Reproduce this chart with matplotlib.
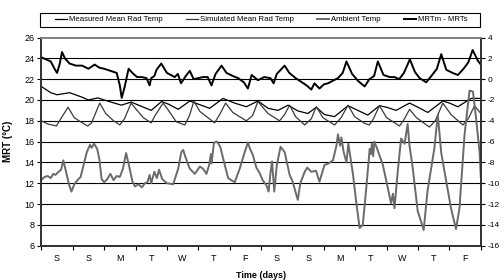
from matplotlib import pylab as plt
from matplotlib.patches import Rectangle
import numpy as np

# Donnees (jours, valeurs)
jours_labels = ['S', 'S', 'M', 'T', 'W', 'T', 'F', 'S', 'S', 'M', 'T', 'W', 'T', 'F']

mesure_t = [0, 0.3, 0.5, 0.9, 1.27, 1.5, 1.8, 2.0, 2.33, 2.55, 2.86, 3.18, 3.5, 3.83, 4.05, 4.36,
            4.73, 5.0, 5.36, 5.79, 6.16, 6.53, 6.9, 7.22, 7.54, 7.86, 8.17, 8.49, 8.76, 9.02, 9.34,
            9.77, 10.08, 10.4, 10.77, 11.0, 11.3, 11.73, 12.0, 12.31, 12.79, 13.0, 13.27, 13.69, 14.0]
mesure = [21.3, 20.7, 20.5, 20.7, 20.3, 20.0, 20.2, 20.0, 19.7, 19.5, 19.8, 19.4, 19.0, 19.85, 19.6, 19.1,
          19.9, 19.6, 19.2, 20.15, 19.7, 19.35, 19.9, 19.2, 19.0, 19.5, 18.95, 18.7, 19.3, 18.6, 18.4,
          19.45, 19.0, 18.55, 19.45, 19.3, 19.0, 19.7, 19.3, 18.8, 19.9, 19.7, 19.35, 20.15, 20.15]

simule_t = [0, 0.2, 0.48, 0.62, 0.85, 1.05, 1.25, 1.48, 1.6, 1.86, 2.05, 2.3, 2.5, 2.65, 2.86, 3.05,
            3.25, 3.5, 3.62, 3.88, 4.05, 4.3, 4.57, 4.72, 4.86, 5.05, 5.52, 5.68, 5.87, 6.1, 6.53,
            6.73, 6.9, 7.22, 7.59, 7.75, 7.91, 8.1, 8.39, 8.6, 8.76, 8.97, 9.34, 9.55, 9.77, 9.98,
            10.3, 10.45, 10.58, 10.77, 11.0, 11.41, 11.55, 11.73, 11.95, 12.36, 12.55, 12.79, 13.05,
            13.43, 13.6, 13.8, 14.0]
simule = [18.0, 17.7, 17.5, 18.2, 19.3, 18.3, 17.9, 17.5, 17.8, 19.7, 18.7, 18.0, 17.6, 18.2, 19.7, 19.0,
          18.3, 17.8, 18.5, 19.7, 19.0, 17.9, 17.6, 18.5, 19.9, 18.9, 17.8, 18.6, 19.7, 18.8, 18.0,
          18.5, 19.85, 18.7, 18.0, 18.6, 19.5, 18.4, 17.6, 18.2, 19.35, 18.3, 17.6, 18.3, 19.5, 18.4,
          17.75, 17.6, 18.2, 19.45, 18.3, 17.5, 18.1, 19.1, 18.3, 17.4, 18.0, 19.7, 18.6,
          17.6, 18.2, 19.45, 18.7]

ambiant_t = [0, 0.1, 0.2, 0.3, 0.38, 0.45, 0.55, 0.63, 0.7, 0.78, 0.88, 0.96, 1.05, 1.18, 1.25, 1.35,
             1.45, 1.55, 1.6, 1.68, 1.78, 1.85, 1.92, 2.0, 2.1, 2.2, 2.3, 2.4, 2.5, 2.6, 2.7, 2.8,
             2.9, 2.98, 3.1, 3.2, 3.3, 3.38, 3.45, 3.5, 3.6, 3.68, 3.75, 3.85, 4.0, 4.2, 4.36, 4.46,
             4.52, 4.58, 4.73, 4.89, 5.05, 5.15, 5.26, 5.35, 5.4, 5.42, 5.5, 5.6, 5.7, 5.79, 5.95,
             6.05, 6.16, 6.32, 6.48, 6.58, 6.65, 6.74, 6.85, 6.95, 7.05, 7.17, 7.24, 7.3, 7.35, 7.42,
             7.5, 7.62, 7.75, 7.91, 8.0, 8.17, 8.25, 8.39, 8.47, 8.6, 8.75, 8.86, 9.02, 9.15, 9.29,
             9.4, 9.45, 9.52, 9.56, 9.63, 9.72, 9.78, 9.93, 10.03, 10.14, 10.24, 10.35, 10.46, 10.5,
             10.53, 10.57, 10.61, 10.7, 10.88, 11.04, 11.14, 11.2, 11.25, 11.35, 11.46, 11.57, 11.67,
             11.72, 11.83, 11.99, 12.1, 12.18, 12.3, 12.52, 12.63, 12.74, 12.9, 13.05, 13.21, 13.32,
             13.48, 13.64, 13.75, 13.85, 13.96, 14.0]
ambiant = [12.3, 12.6, 12.7, 12.5, 12.9, 12.8, 13.1, 13.3, 14.2, 13.2, 11.9, 11.2, 11.9, 12.4, 12.6, 13.8,
           15.0, 15.7, 15.4, 15.8, 15.3, 14.3, 12.4, 12.1, 12.4, 12.9, 12.3, 12.7, 12.6, 13.4, 14.9, 13.6,
           12.2, 11.7, 11.9, 11.6, 12.0, 12.1, 12.8, 12.0, 13.1, 12.5, 13.3, 12.4, 12.0, 11.9, 13.4, 15.0,
           15.2, 14.6, 13.4, 12.9, 13.6, 13.4, 12.9, 13.8, 14.8, 13.9, 15.9, 16.0, 15.5, 14.4, 12.5,
           12.3, 12.1, 13.4, 15.0, 15.9, 15.3, 14.7, 13.5, 13.0, 12.3, 11.8, 11.2, 13.0, 14.1, 11.2,
           13.7, 15.5, 15.0, 12.8, 12.2, 10.4, 12.0, 13.1, 13.5, 13.1, 13.2, 12.15, 13.75, 13.9, 14.2,
           15.6, 16.7, 15.6, 16.4, 15.0, 14.0, 15.8, 12.8, 10.2, 7.7, 8.0, 11.5, 15.3, 14.8,
           15.8, 14.6, 16.0, 15.3, 13.75, 11.5, 10.1, 11.0, 9.6, 13.0, 16.3, 15.8, 17.7,
           15.8, 13.5, 9.3, 8.3, 7.5, 11.2, 15.35, 18.6, 14.9, 12.15, 9.6, 7.6, 9.6,
           16.6, 20.9, 20.8, 18.2, 15.0, 12.6]

diff_t = [0, 0.15, 0.3, 0.42, 0.5, 0.58, 0.66, 0.75, 0.9, 1.1, 1.3, 1.5, 1.7, 1.85, 2.0, 2.2, 2.4,
          2.5, 2.56, 2.65, 2.78, 2.9, 3.05, 3.2, 3.35, 3.45, 3.5, 3.6, 3.67, 3.82, 4.0, 4.25, 4.35,
          4.45, 4.6, 4.73, 4.85, 5.0, 5.15, 5.3, 5.42, 5.55, 5.74, 5.9, 6.1, 6.27, 6.45, 6.58, 6.7,
          6.9, 7.1, 7.3, 7.4, 7.5, 7.75, 7.9, 8.1, 8.3, 8.45, 8.6, 8.7, 8.86, 9.0, 9.13, 9.45, 9.6,
          9.72, 9.9, 10.1, 10.3, 10.45, 10.6, 10.72, 10.9, 11.1, 11.25, 11.4, 11.55, 11.74, 11.9,
          12.05, 12.26, 12.45, 12.6, 12.74, 12.9, 13.1, 13.27, 13.45, 13.6, 13.74, 13.9, 14.0]
diff = [2.1, 1.9, 1.7, 1.0, 0.6, 1.4, 2.6, 2.0, 1.5, 1.3, 1.3, 1.0, 1.4, 1.1, 1.0, 0.8, 0.6,
        -0.6, -1.8, -0.8, 1.0, 0.6, 0.2, 0.2, 0.1, -0.6, 0.1, 0.3, 0.9, 1.5, 0.6, 0.2, 0.5,
        -0.4, 0.3, 0.8, 0.0, 0.1, 0.2, 0.2, -0.6, 0.5, 1.3, 0.6, 0.3, 0.1, -0.3, -0.9, 0.4,
        -0.1, 0.2, 0.1, -0.4, 0.5, 1.3, 0.6, 0.1, -0.3, -0.6, -1.0, -0.4, -0.9, -0.5, -0.4, 0.1, 0.6,
        1.7, 0.5, -0.2, -0.7, 0.0, 0.3, 1.7, 0.4, 0.2, 0.2, 0.0, 0.6, 1.9, 0.7,
        0.1, -0.3, 0.4, 1.0, 2.4, 0.9, 0.6, 0.4, 1.0, 1.6, 2.8, 1.8, 1.4]

plt.rcParams['font.family'] = ['Liberation Sans', 'DejaVu Sans']
plt.rcParams['axes.unicode_minus'] = False

fig = plt.figure(figsize=(5.04, 2.8), dpi=100)
ax = fig.add_axes([0.082, 0.1225, 0.872, 0.7435])
ax2 = ax.twinx()

l1, = ax.plot(mesure_t, mesure, color='black', lw=0.9)
l2, = ax.plot(simule_t, simule, color='#3a3a3a', lw=0.9)
l3, = ax.plot(ambiant_t, ambiant, color='#6a6a6a', lw=1.4)
l4, = ax2.plot(diff_t, diff, color='black', lw=1.4)

ax.set_xlim(0, 14)
ax.set_ylim(6, 26)
ax2.set_ylim(-16, 4)
ax.set_yticks(np.arange(6, 27, 2))
ax2.set_yticks(np.arange(-16, 5, 2))
for y in range(8, 26, 2):
    ax.axhline(y, color='black', lw=0.8, zorder=0)

ax.set_xticks(np.arange(0, 15, 1))
ax.set_xticklabels([])
ax.set_xticks(np.arange(0.5, 14, 1), minor=True)
ax.set_xticklabels(jours_labels, minor=True)
ax.tick_params(axis='x', which='minor', length=0, pad=6, labelsize=6.5)
ax.tick_params(axis='x', which='major', length=3, width=0.8)
ax.tick_params(axis='y', length=3, width=0.8, labelsize=6.5, pad=2)
ax2.tick_params(axis='y', length=3, width=0.8, labelsize=6, pad=2)

for a in (ax, ax2):
    for s in ('left', 'right', 'bottom'):
        a.spines[s].set_color('#303030')
        a.spines[s].set_linewidth(1.2)
    a.spines['top'].set_color('#808080')
    a.spines['top'].set_linewidth(1.2)

ax.set_ylabel('MRT (°C)', fontsize=7, fontweight='bold', labelpad=8)
ax.set_xlabel('Time (days)', fontsize=6.5, fontweight='bold', labelpad=6)

# cadre de la legende dessine a part
fig.patches.append(Rectangle((0.0794, 0.905), 0.873, 0.05, transform=fig.transFigure,
                             fill=False, edgecolor='black', lw=0.8))
fig.legend([l1, l2, l3, l4],
           ['Measured Mean Rad Temp', 'Simulated Mean Rad Temp', 'Ambient Temp', 'MRTm - MRTs'],
           loc='center', bbox_to_anchor=(0.518, 0.93), ncol=4, fontsize=5.6, frameon=False,
           handlelength=1.6, handletextpad=0.2, borderpad=0, columnspacing=3.0)

plt.savefig('out.png', dpi=100)
